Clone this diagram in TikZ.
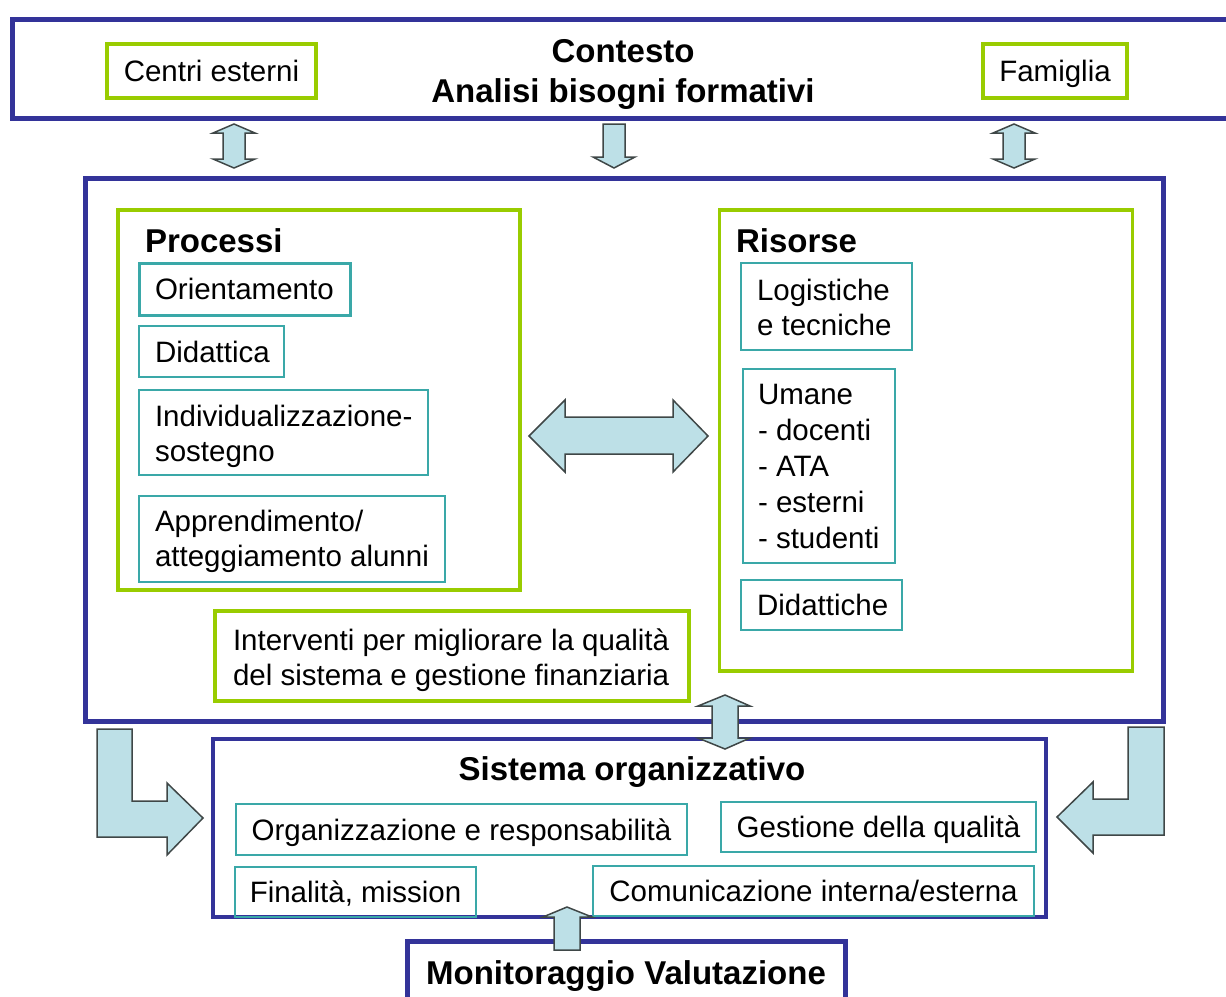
\documentclass[tikz,border=0pt]{standalone}
\usepackage{fontspec}
\setmainfont{Liberation Sans}
\definecolor{frameblue}{HTML}{333399}
\definecolor{limeg}{HTML}{99CC00}
\definecolor{tealc}{HTML}{3AA8A8}
\definecolor{arrowfill}{HTML}{BDE0E7}
\definecolor{arrowline}{HTML}{3F4747}
\begin{document}
\begin{tikzpicture}[x=1pt,y=-1pt,
  font=\fontsize{29.5}{35}\selectfont,
  every node/.style={outer sep=0pt},
  bluebox/.style={draw=frameblue, line width=5pt, anchor=north west, inner sep=0pt},
  greenbox/.style={draw=limeg, line width=3.5pt, anchor=north west, inner sep=0pt},
  tealbox/.style={draw=tealc, line width=1.5pt, anchor=north west, inner sep=0pt},
  tealthick/.style={tealbox, line width=3pt},
  txt/.style={inner sep=0pt, align=left, anchor=west},
  ctxt/.style={inner sep=0pt, text height=24pt, text depth=3pt},
  titletxt/.style={inner sep=0pt, font=\fontsize{33}{40}\selectfont\bfseries},
  blockarrow/.style={fill=arrowfill, draw=arrowline, line width=1.5pt, line join=miter}]
\useasboundingbox (0,0) rectangle (1226,996);
\clip (0,0) rectangle (1226,996);

% ---- top context box
\node[bluebox, minimum width=1230, minimum height=99] (ctx) at (12.5,19.5) {};
\node[titletxt, anchor=base] (ctxt1) at (623,62) {Contesto};
\node[titletxt, anchor=base] (ctxt2) at (623,102) {Analisi bisogni formativi};
\node[greenbox, minimum width=209, minimum height=54] (centri) at (107,44) {};
\node[ctxt] (centrit) at (centri.center) {Centri esterni};
\node[greenbox, minimum width=144, minimum height=54] (fam) at (983,44) {};
\node[ctxt] (famt) at (fam.center) {Famiglia};

% ---- top arrows
\draw[blockarrow] (234,124) -- (255,133) -- (245,133) -- (245,159) -- (255,159) -- (234,168)
  -- (213,159) -- (223,159) -- (223,133) -- (213,133) -- cycle;
\draw[blockarrow] (603,124) -- (625,124) -- (625,157) -- (635,157) -- (614,168) -- (593,157)
  -- (603,157) -- cycle;
\draw[blockarrow] (1014,124) -- (1035,133) -- (1025,133) -- (1025,159) -- (1035,159) -- (1014,168)
  -- (993,159) -- (1003,159) -- (1003,133) -- (993,133) -- cycle;

% ---- main box
\node[bluebox, minimum width=1078, minimum height=543] (main) at (85.5,178.5) {};

% Processi
\node[greenbox, minimum width=402, minimum height=380] (proc) at (118,210) {};
\node[titletxt, anchor=base west] (proct) at (145,252) {Processi};
\node[tealthick, minimum width=211, minimum height=52] (orient) at (139,263) {};
\node[txt] (orientt) at ([xshift=16]orient.west) {Orientamento};
\node[tealbox, minimum width=145, minimum height=51] (did) at (139,326) {};
\node[txt] (didt) at ([xshift=16]did.west) {Didattica};
\node[tealbox, minimum width=289, minimum height=85] (indiv) at (139,390) {};
\node[txt] (indivt) at ([xshift=16,yshift=-4]indiv.west) {Individualizzazione-\\sostegno};
\node[tealbox, minimum width=306, minimum height=86] (appr) at (139,496) {};
\node[txt] (apprt) at ([xshift=16,yshift=-2]appr.west) {Apprendimento/\\atteggiamento alunni};

% Risorse
\node[greenbox, minimum width=413, minimum height=461] (ris) at (719.5,210) {};
\node[titletxt, anchor=base west] (rist) at (736,252) {Risorse};
\node[tealbox, minimum width=171, minimum height=87] (log) at (741,263) {};
\node[txt] (logt) at ([xshift=16,yshift=-1]log.west) {Logistiche\\e tecniche};
\node[tealbox, minimum width=152, minimum height=194] (uman) at (743,369) {};
\node[txt, font=\fontsize{29.5}{36}\selectfont] (umant) at ([xshift=15]uman.west) {Umane\\- docenti\\- ATA\\- esterni\\- studenti};
\node[tealbox, minimum width=161, minimum height=50] (didr) at (741,580) {};
\node[txt] (didrt) at ([xshift=16]didr.west) {Didattiche};

% Interventi
\node[greenbox, minimum width=474, minimum height=90] (interv) at (215,611) {};
\node[txt] (intervt) at ([xshift=18,yshift=-4]interv.west) {Interventi per migliorare la qualit\`a\\del sistema e gestione finanziaria};

% big double arrow
\draw[blockarrow] (529,436) -- (565,400) -- (565,417) -- (673,417) -- (673,400) -- (708,436)
  -- (673,472) -- (673,454) -- (565,454) -- (565,472) -- cycle;

% ---- Sistema organizzativo
\node[bluebox, line width=4.5pt, minimum width=833, minimum height=178] (sist) at (213,739) {};
\node[titletxt, anchor=base] (sistt) at (632,780) {Sistema organizzativo};
\node[tealbox, minimum width=451, minimum height=51] (org) at (236,804) {};
\node[ctxt] (orgt) at (org.center) {Organizzazione e responsabilit\`a};
\node[tealbox, minimum width=315, minimum height=50] (gest) at (721,802) {};
\node[ctxt] (gestt) at (gest.center) {Gestione della qualit\`a};
\node[tealbox, minimum width=241, minimum height=50] (fin) at (235,867) {};
\node[ctxt] (fint) at (fin.center) {Finalit\`a, mission};
\node[tealbox, minimum width=441, minimum height=50] (com) at (593,866) {};
\node[ctxt] (comt) at (com.center) {Comunicazione interna/esterna};

% double arrow main <-> sistema
\draw[blockarrow] (725,695) -- (750,706) -- (738,706) -- (738,738) -- (750,738) -- (725,749)
  -- (698,738) -- (712,738) -- (712,706) -- (698,706) -- cycle;

% L arrows
\draw[blockarrow] (97,729) -- (132,729) -- (132,801) -- (167,801) -- (167,783) -- (203,818)
  -- (167,855) -- (167,837) -- (97,837) -- cycle;
\draw[blockarrow] (1164,727) -- (1128,727) -- (1128,799) -- (1093,799) -- (1093,782) -- (1057,817)
  -- (1093,853) -- (1093,835) -- (1164,835) -- cycle;

% ---- Monitoraggio
\node[bluebox, minimum width=438, minimum height=80] (mon) at (407,941) {};
\node[titletxt, anchor=base] (mont) at (626,984) {Monitoraggio Valutazione};
\draw[blockarrow] (554,950) -- (554,917) -- (543,917) -- (567,907) -- (592,917) -- (580,917)
  -- (580,950) -- cycle;
\end{tikzpicture}
\end{document}
